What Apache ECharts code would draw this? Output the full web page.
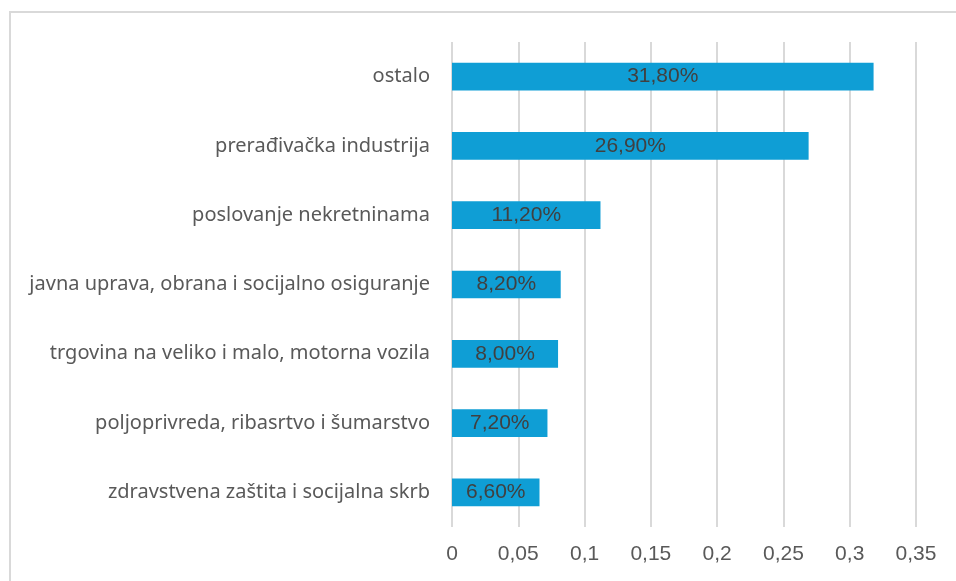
<!DOCTYPE html>
<html lang="hr" style="height: 100%">
<head>
  <meta charset="utf-8">
</head>
<body style="height: 100%; margin: 0; background: #fff">
  <div id="container" style="width: 956px; height: 581px"></div>

  <script type="text/javascript" src="https://fastly.jsdelivr.net/npm/echarts@6/dist/echarts.min.js"></script>
  <script type="text/javascript">
    // kategorije odozdo prema gore (os y ide odozdo)
    var categories = [
      'zdravstvena zaštita i socijalna skrb',
      'poljoprivreda, ribasrtvo i šumarstvo',
      'trgovina na veliko i malo, motorna vozila',
      'javna uprava, obrana i socijalno osiguranje',
      'poslovanje nekretninama',
      'prerađivačka industrija',
      'ostalo'
    ];
    var shares = [0.066, 0.072, 0.080, 0.082, 0.112, 0.269, 0.318];

    var dom = document.getElementById('container');
    var myChart = echarts.init(dom, null, { renderer: 'canvas' });

    var option = {
      animation: false,
      backgroundColor: '#fff',
      graphic: [{
        type: 'rect',
        shape: { x: 10, y: 12, width: 960, height: 590 },
        style: { fill: 'none', stroke: '#d9d9d9', lineWidth: 2 },
        silent: true
      }],
      grid: {
        left: 452,
        right: 40,
        top: 42,
        bottom: 54
      },
      xAxis: {
        type: 'value',
        min: 0,
        max: 0.35,
        interval: 0.05,
        axisLine: { show: false },
        axisTick: { show: false },
        splitLine: { lineStyle: { color: '#d9d9d9', width: 2 } },
        axisLabel: {
          margin: 17,
          color: '#595959',
          fontSize: 21,
          fontFamily: 'Liberation Sans',
          formatter: function (v) {
            return String(Math.round(v * 100) / 100).replace('.', ',');
          }
        }
      },
      yAxis: {
        type: 'category',
        data: categories,
        axisLine: { show: false },
        axisTick: { show: false },
        axisLabel: {
          margin: 22,
          color: '#595959',
          fontSize: 20,
          fontFamily: 'Noto Sans'
        }
      },
      series: [{
        type: 'bar',
        data: shares,
        barWidth: '40%',
        itemStyle: { color: '#0f9ed5' },
        label: {
          show: true,
          position: 'inside',
          color: '#404040',
          fontSize: 21,
          fontFamily: 'Liberation Sans',
          formatter: function (p) {
            return (p.value * 100).toFixed(2).replace('.', ',') + '%';
          }
        }
      }]
    };

    myChart.setOption(option);
    window.addEventListener('resize', myChart.resize);
  </script>
</body>
</html>
